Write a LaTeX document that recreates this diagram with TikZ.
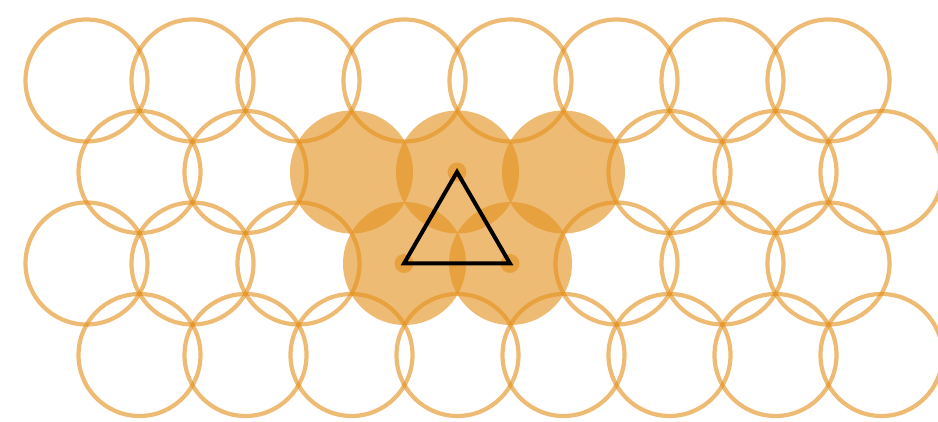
\documentclass[tikz,border=0pt]{standalone}
\definecolor{orng}{RGB}{228,145,30}
\tikzset{
  ring/.style={draw=orng, draw opacity=0.62, line width=4.2pt},
  disk/.style={fill=orng, fill opacity=0.62},
  tri/.style={draw=black, line width=4pt, line join=miter}
}
\begin{document}
\begin{tikzpicture}[x=1pt,y=-1pt]
\useasboundingbox (0,0) rectangle (938,422);
% rows 1 and 3
\foreach \r/\y in {1/80.5,3/263.5}{
  \foreach \k in {0,...,7}{
    \pgfmathsetmacro{\xx}{86.5+106*\k}
    \pgfmathtruncatemacro{\fl}{(\r==3 && (\k==3 || \k==4)) ? 1 : 0}
    \ifnum\fl=0
      \node[ring, circle, minimum size=122pt, inner sep=0pt] (c\r\k) at (\xx,\y) {};
    \else
      \node[disk, circle, minimum size=123pt, inner sep=0pt] (c\r\k) at (\xx,\y) {};
    \fi
  }
}
% rows 2 and 4
\foreach \r/\y in {2/172,4/355}{
  \foreach \k in {0,...,7}{
    \pgfmathsetmacro{\xx}{139.5+106*\k}
    \pgfmathtruncatemacro{\fl}{(\r==2 && (\k==2 || \k==3 || \k==4)) ? 1 : 0}
    \ifnum\fl=0
      \node[ring, circle, minimum size=122pt, inner sep=0pt] (c\r\k) at (\xx,\y) {};
    \else
      \node[disk, circle, minimum size=123pt, inner sep=0pt] (c\r\k) at (\xx,\y) {};
    \fi
  }
}
% vertex dots
\node[disk, circle, minimum size=19pt, inner sep=0pt] (va) at (457,172) {};
\node[disk, circle, minimum size=19pt, inner sep=0pt] (vb) at (404,263.5) {};
\node[disk, circle, minimum size=19pt, inner sep=0pt] (vc) at (510,263.5) {};
\draw[tri] (va.center) -- (vb.center) -- (vc.center) -- cycle;
\end{tikzpicture}
\end{document}
